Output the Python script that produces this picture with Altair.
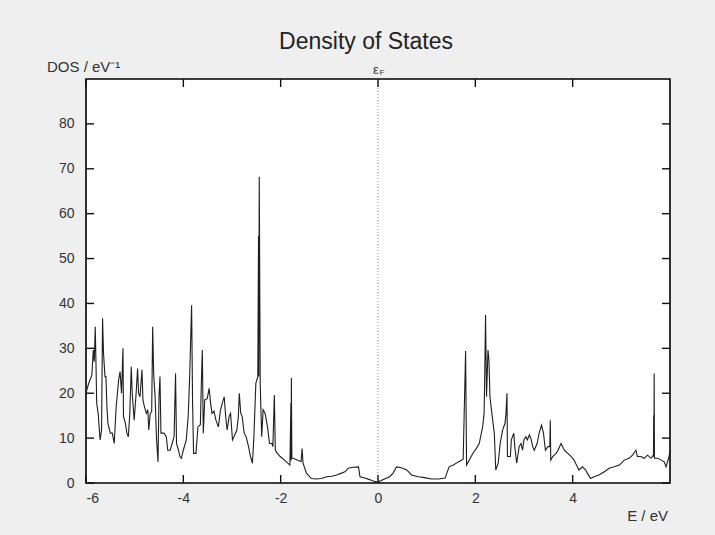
import altair as alt
import pandas as pd

# ---------------- data ----------------
energy = [
    -6.00, -5.985, -5.95, -5.92, -5.88, -5.85, -5.83, -5.81, -5.795, -5.78, -5.75, -5.71, -5.68,
    -5.66, -5.64, -5.61, -5.59, -5.57, -5.55, -5.50, -5.46, -5.42, -5.38, -5.33, -5.30, -5.27,
    -5.24, -5.23, -5.19, -5.16, -5.13, -5.10, -5.07, -5.05, -5.01, -4.97, -4.94, -4.92, -4.89,
    -4.85, -4.83, -4.80, -4.76, -4.73, -4.71, -4.68, -4.65, -4.63, -4.61, -4.58, -4.55, -4.52,
    -4.50, -4.48, -4.46, -4.40, -4.35, -4.32, -4.27, -4.21, -4.19, -4.16, -4.14, -4.10, -4.07,
    -4.04, -4.00,
    -3.94, -3.90, -3.87, -3.83, -3.81, -3.79, -3.74, -3.70, -3.65, -3.63, -3.61, -3.59, -3.56,
    -3.51, -3.47, -3.44, -3.41, -3.37, -3.33, -3.28, -3.24, -3.20, -3.16, -3.13, -3.10, -3.06,
    -3.03, -2.99, -2.96, -2.90, -2.87, -2.85, -2.82, -2.79, -2.75, -2.71, -2.66, -2.62, -2.58,
    -2.55, -2.51, -2.47, -2.455, -2.45, -2.44, -2.42, -2.39, -2.36, -2.32, -2.27, -2.23, -2.18,
    -2.16, -2.13, -2.11, -2.07, -2.01,
    -1.92, -1.81, -1.79, -1.785, -1.78, -1.77, -1.74, -1.64, -1.58, -1.56, -1.54, -1.47, -1.37,
    -1.26, -1.16, -1.06, -0.95, -0.85, -0.75, -0.68, -0.61, -0.51, -0.40, -0.37, -0.27, -0.16,
    -0.06, 0.00,
    0.10, 0.24, 0.31, 0.38, 0.48, 0.59, 0.69, 0.83, 0.96, 1.10, 1.24, 1.38, 1.46, 1.55, 1.65,
    1.75, 1.80, 1.82, 1.90, 1.96, 2.01,
    2.08, 2.15, 2.18, 2.19, 2.21, 2.23, 2.26, 2.28, 2.30, 2.34, 2.39, 2.42, 2.47, 2.51, 2.56,
    2.61, 2.63, 2.65, 2.66, 2.72, 2.74, 2.79, 2.81, 2.85, 2.90, 2.94, 2.97, 3.00, 3.04, 3.07,
    3.11, 3.14, 3.18, 3.21, 3.27, 3.31, 3.36, 3.40, 3.44, 3.49, 3.53, 3.54, 3.55, 3.59, 3.66,
    3.70, 3.76, 3.83, 3.90, 3.97,
    4.03, 4.06, 4.13, 4.20, 4.27, 4.30, 4.37, 4.44, 4.54, 4.65, 4.75, 4.85, 4.96, 5.06, 5.16,
    5.23, 5.30, 5.33, 5.40, 5.47, 5.54, 5.61, 5.66, 5.665, 5.67, 5.675, 5.68, 5.70, 5.75, 5.82,
    5.88, 5.92, 5.98, 6.00,
]
dos = [
    19.5, 20.7, 22.0, 22.9, 24.0, 29.6, 27.0, 34.8, 26.7, 17.7, 15.5, 9.6, 11.8,
    36.7, 28.9, 23.7, 23.7, 17.0, 13.3, 11.1, 11.1, 8.8, 17.0, 22.9, 24.8, 20.0,
    30.0, 14.8, 13.3, 11.1, 10.3, 15.5, 25.9, 20.0, 14.0, 20.0, 25.5, 20.0, 19.2,
    25.2, 18.5, 17.0, 15.5, 16.3, 11.8, 15.5, 15.9, 34.8, 24.4, 19.2, 9.6, 4.7,
    19.2, 23.7, 11.1, 11.1, 10.3, 7.3, 7.3, 9.6, 10.3, 24.4, 8.8, 7.3, 5.9,
    5.5, 7.3,
    9.6, 14.8, 23.7, 39.6, 17.8, 6.6, 6.6, 12.5, 13.0, 22.2, 29.6, 11.1, 18.5,
    18.8, 21.1, 17.8, 15.5, 16.0, 14.0, 12.5, 16.0, 17.8, 19.2, 14.8, 11.8, 14.8,
    15.5, 9.6, 10.3, 11.8, 14.8, 20.0, 15.5, 14.8, 11.1, 10.3, 8.1, 5.9, 4.4,
    10.3, 22.2, 23.7, 55.0, 23.7, 68.2, 22.0, 10.3, 16.3, 15.5, 12.5, 8.8, 8.8,
    8.1, 19.6, 7.3, 6.6, 5.9,
    5.1, 4.0, 17.8, 5.0, 23.4, 5.5, 5.5, 5.0, 4.8, 7.7, 4.4, 2.2, 1.0,
    0.9, 1.0, 1.4, 1.5, 1.8, 2.2, 2.5, 3.3, 3.5, 3.6, 1.4, 1.1, 0.7,
    0.3, 0.2,
    0.7, 1.4, 2.2, 3.6, 3.4, 2.9, 1.8, 1.4, 1.2, 0.9, 0.9, 1.1, 3.6, 4.0, 4.7,
    5.3, 29.4, 4.0, 5.6, 6.8, 7.5,
    8.8, 12.5, 15.5, 21.4, 37.4, 19.2, 29.6, 27.4, 19.2, 15.5, 11.1, 2.9, 4.4, 8.8, 11.8,
    13.3, 15.5, 20.0, 5.9, 5.9, 9.6, 11.1, 8.1, 4.4, 8.1, 8.8, 7.3, 9.6, 10.3, 9.6,
    10.7, 10.0, 8.1, 7.3, 8.8, 11.1, 12.9, 11.1, 7.3, 8.1, 8.1, 14.0, 5.1, 5.9, 6.6,
    7.3, 8.8, 7.3, 6.6, 5.9,
    5.1, 4.4, 2.9, 3.6, 2.9, 2.2, 1.0, 1.4, 1.8, 2.5, 3.3, 3.6, 4.0, 5.1, 5.5,
    6.2, 7.3, 5.9, 5.9, 5.5, 6.2, 5.5, 6.2, 15.1, 5.8, 24.4, 5.5, 5.5, 5.5, 5.1,
    4.7, 3.6, 5.9, 7.3,
]
x_ticks = [-6, -4, -2, 0, 2, 4]
y_ticks = [0, 10, 20, 30, 40, 50, 60, 70, 80]
fermi = [0.0]

title_text = "Density of States"
y_title = "DOS / eV\u207b\u00b9"
x_title = "E / eV"

df = pd.DataFrame({"E": energy, "DOS": dos})
fdf = pd.DataFrame({"E": fermi})
xt = pd.DataFrame({"t": x_ticks})
yt = pd.DataFrame({"t": y_ticks})

FONT = "Liberation Sans"
W, H = 584, 404
TK = 8
xscale = alt.Scale(domain=[-6, 6], nice=False, zero=False)
yscale = alt.Scale(domain=[0, 90], nice=False, zero=False)

lab_axis = dict(grid=False, domain=False, ticks=False, labelFont=FONT, labelFontSize=14,
                labelColor="#333", title=None, labelExpr="'' + datum.value")

line = alt.Chart(df).mark_line(color="#1e1e1e", strokeWidth=1.1).encode(
    x=alt.X("E:Q", scale=xscale,
            axis=alt.Axis(values=x_ticks, orient="bottom", labelPadding=8, **lab_axis)),
    y=alt.Y("DOS:Q", scale=yscale,
            axis=alt.Axis(values=y_ticks, orient="left", labelPadding=12, **lab_axis)),
)

tick_style = dict(color="#111", strokeWidth=1.4)
bot_ticks = alt.Chart(xt).mark_rule(**tick_style).encode(
    x=alt.X("t:Q", scale=xscale, axis=None), y=alt.value(H), y2=alt.value(H - TK))
top_ticks = alt.Chart(xt).mark_rule(**tick_style).encode(
    x=alt.X("t:Q", scale=xscale, axis=None), y=alt.value(0), y2=alt.value(TK))
left_ticks = alt.Chart(yt).mark_rule(**tick_style).encode(
    y=alt.Y("t:Q", scale=yscale, axis=None), x=alt.value(0), x2=alt.value(TK))
right_ticks = alt.Chart(yt).mark_rule(**tick_style).encode(
    y=alt.Y("t:Q", scale=yscale, axis=None), x=alt.value(W - TK), x2=alt.value(W))

frule = alt.Chart(fdf).mark_rule(color="#888", strokeWidth=1, strokeDash=[1, 2]).encode(
    x=alt.X("E:Q", scale=xscale, axis=None),
    y=alt.value(0), y2=alt.value(H),
)

eps = alt.Chart(fdf).mark_text(text="\u03b5", font=FONT, fontSize=13, color="#333",
                              baseline="middle", align="center", dx=-2).encode(
    x=alt.X("E:Q", scale=xscale, axis=None), y=alt.value(-9))
epsF = alt.Chart(fdf).mark_text(text="F", font=FONT, fontSize=8, color="#333",
                               baseline="middle", align="center", dx=4).encode(
    x=alt.X("E:Q", scale=xscale, axis=None), y=alt.value(-6))

ttl = alt.Chart(fdf).mark_text(text=title_text, font=FONT, fontSize=23, color="#222",
                              baseline="middle", align="center").encode(
    x=alt.value(280), y=alt.value(-37))
ytl = alt.Chart(fdf).mark_text(text=y_title, font=FONT, fontSize=15, color="#333",
                              baseline="middle", align="left").encode(
    x=alt.value(-39), y=alt.value(-12))
xtl = alt.Chart(fdf).mark_text(text=x_title, font=FONT, fontSize=15, color="#333",
                              baseline="middle", align="right").encode(
    x=alt.value(582), y=alt.value(33 + H))

chart = alt.layer(frule, bot_ticks, top_ticks, left_ticks, right_ticks, line,
                  eps, epsF, ttl, ytl, xtl).resolve_axis(
    x="independent", y="independent"
).properties(
    width=W, height=H,
    padding={"left": 86, "top": 79, "right": 45, "bottom": 52},
    autosize=alt.AutoSizeParams(type="none"),
    background="#efefef",
).configure_view(
    fill="white", stroke="#000", strokeWidth=1.6
)

chart.save("out.html", embed_options={"renderer": "svg", "actions": False})
